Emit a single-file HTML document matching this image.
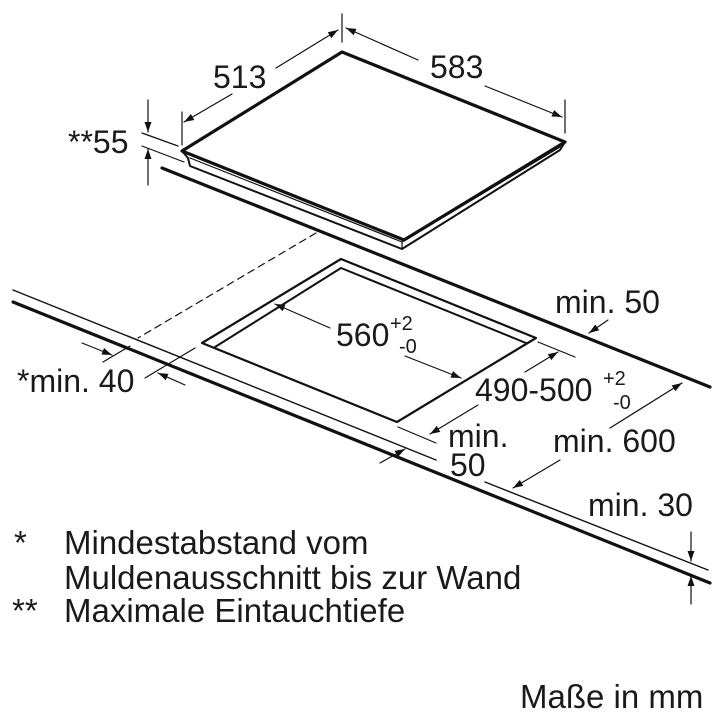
<!DOCTYPE html>
<html><head><meta charset="utf-8"><style>
html,body{margin:0;padding:0;background:#fff}
svg{display:block}
text{font-family:"Liberation Sans",sans-serif;fill:#1a1a1a}
</style></head><body>
<svg width="720" height="720" viewBox="0 0 720 720" xmlns="http://www.w3.org/2000/svg">
<defs>
<marker id="a" viewBox="0 0 10 10" refX="10" refY="5" markerWidth="10" markerHeight="10" orient="auto-start-reverse" markerUnits="userSpaceOnUse"><path d="M0,1.5 L10,5 L0,8.5 z" fill="#111"/></marker>
</defs>
<g stroke="#111" fill="none" stroke-linecap="round" stroke-linejoin="round">
<path d="M182,151 L342,52 L565,142 L404,240 Z" stroke-width="3.2"/>
<path d="M182,151 L188,158 L190,166 L402,249 L560,150 L565,142" stroke-width="2"/>
<path d="M190,158 L402,242 L560,147" stroke-width="1.2"/>
<line x1="402" y1="242" x2="402" y2="249" stroke-width="1.2"/>
<line x1="162" y1="168" x2="710" y2="387" stroke-width="3.2"/>
<line x1="316" y1="233" x2="138" y2="338" stroke-width="1.2" stroke-dasharray="7,5"/>
<line x1="13" y1="290" x2="436" y2="460" stroke-width="1.4"/>
<line x1="485" y1="482" x2="708" y2="570" stroke-width="1.4"/>
<line x1="13" y1="302" x2="710" y2="583" stroke-width="3.2"/>
<path d="M202,343 L341,259 L536,338 L397,422 Z" stroke-width="2.2"/>
<path d="M215,347 L341,268 L526,343" stroke-width="2"/>
<line x1="182" y1="145" x2="182" y2="112" stroke-width="1.2"/>
<line x1="342" y1="42" x2="342" y2="14" stroke-width="1.2"/>
<line x1="232" y1="94" x2="184" y2="122" stroke-width="1.2" marker-end="url(#a)"/>
<line x1="276" y1="68" x2="338" y2="30" stroke-width="1.2" marker-end="url(#a)"/>
<line x1="565" y1="133" x2="565" y2="100" stroke-width="1.2"/>
<line x1="418" y1="60" x2="346" y2="28" stroke-width="1.2" marker-end="url(#a)"/>
<line x1="485" y1="86" x2="562" y2="117" stroke-width="1.2" marker-end="url(#a)"/>
<line x1="142" y1="133" x2="178" y2="146" stroke-width="1.2"/>
<line x1="142" y1="146" x2="184" y2="162" stroke-width="1.2"/>
<line x1="148" y1="100" x2="148" y2="132" stroke-width="1.2" marker-end="url(#a)"/>
<line x1="148" y1="185" x2="148" y2="149" stroke-width="1.2" marker-end="url(#a)"/>
<line x1="608" y1="320" x2="589" y2="333" stroke-width="1.2" marker-end="url(#a)"/>
<line x1="330" y1="328" x2="275" y2="304" stroke-width="1.2" marker-end="url(#a)"/>
<line x1="405" y1="356" x2="461" y2="378" stroke-width="1.2" marker-end="url(#a)"/>
<line x1="538" y1="342" x2="575" y2="357" stroke-width="1.2"/>
<line x1="398" y1="427" x2="436" y2="443" stroke-width="1.2"/>
<line x1="525" y1="372" x2="558" y2="352" stroke-width="1.2" marker-end="url(#a)"/>
<line x1="478" y1="405" x2="430" y2="434" stroke-width="1.2" marker-end="url(#a)"/>
<line x1="610" y1="428" x2="682" y2="383" stroke-width="1.2" marker-end="url(#a)"/>
<line x1="560" y1="460" x2="513" y2="488" stroke-width="1.2" marker-end="url(#a)"/>
<line x1="380" y1="463" x2="405" y2="449" stroke-width="1.2" marker-end="url(#a)"/>
<line x1="82" y1="343" x2="112" y2="355" stroke-width="1.2" marker-end="url(#a)"/>
<line x1="103" y1="362" x2="130" y2="346" stroke-width="1.2"/>
<line x1="145" y1="378" x2="195" y2="348" stroke-width="1.2"/>
<line x1="185" y1="385" x2="158" y2="373" stroke-width="1.2" marker-end="url(#a)"/>
<line x1="691" y1="532" x2="691" y2="561" stroke-width="1.2" marker-end="url(#a)"/>
<line x1="691" y1="604" x2="691" y2="576" stroke-width="1.2" marker-end="url(#a)"/>
</g>
<g font-size="32">
<text x="213" y="88">513</text>
<text x="430" y="78">583</text>
<text x="68" y="153">**55</text>
<text x="555" y="313">min. 50</text>
<text x="336" y="346">560</text>
<text x="390" y="330" font-size="20">+2</text>
<text x="399" y="353" font-size="20">-0</text>
<text x="17" y="392">*min. 40</text>
<text x="475" y="401">490-500</text>
<text x="603" y="385" font-size="20">+2</text>
<text x="613" y="409" font-size="20">-0</text>
<text x="448" y="447">min.</text>
<text x="450" y="476">50</text>
<text x="553" y="452">min. 600</text>
<text x="588" y="516">min. 30</text>
<g font-size="33">
<text x="14" y="554">*</text>
<text x="64" y="554">Mindestabstand vom</text>
<text x="64" y="589">Muldenausschnitt bis zur Wand</text>
<text x="12" y="622">**</text>
<text x="64" y="622">Maximale Eintauchtiefe</text>
<text x="520" y="708">Maße in mm</text>
</g>
</g>
</svg>
</body></html>
